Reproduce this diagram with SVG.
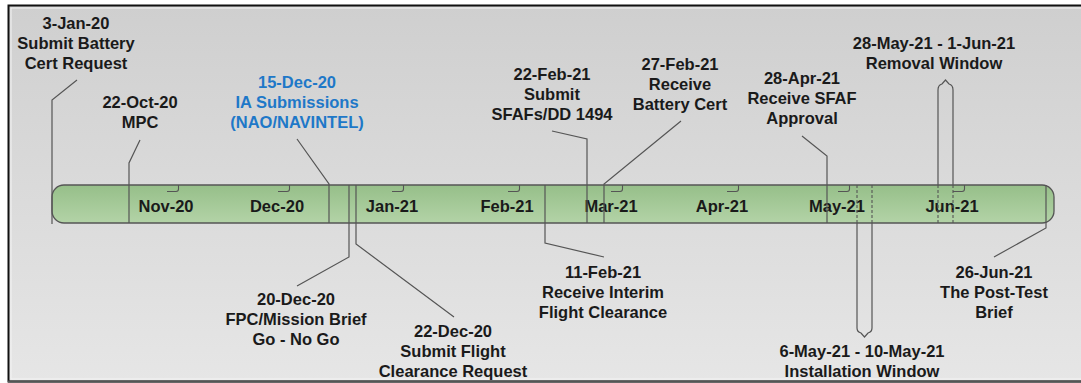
<svg xmlns="http://www.w3.org/2000/svg" width="1081" height="383" viewBox="0 0 1081 383">
<defs>
<linearGradient id="bg" x1="0" y1="0" x2="0" y2="1">
<stop offset="0" stop-color="#cfcfcf"/>
<stop offset="1" stop-color="#e6e6e6"/>
</linearGradient>
<linearGradient id="bar" x1="0" y1="0" x2="0" y2="1">
<stop offset="0" stop-color="#96bf89"/>
<stop offset="1" stop-color="#b3d3a7"/>
</linearGradient>
<style>
text{font-family:"Liberation Sans",Arial,sans-serif;font-weight:bold;font-size:16.5px;fill:#1a1a1a;text-anchor:middle}
text.blue{fill:#1e78c8}
.ld{fill:none;stroke:#555;stroke-width:1.2}
.dash{fill:none;stroke:#555;stroke-width:1.1;stroke-dasharray:3 2}
.tick{fill:none;stroke:#555;stroke-width:1.1}
</style>
</defs>
<rect x="8" y="5" width="1080" height="378" fill="url(#bg)"/>
<rect x="8.5" y="5.5" width="1080" height="376" fill="none" stroke="#111" stroke-width="2"/>
<rect x="11" y="8" width="1076" height="371" fill="none" stroke="#f4f4f4" stroke-width="1"/>
<line x1="8" y1="381.5" x2="1081" y2="381.5" stroke="#555" stroke-width="2"/>

<g id="timeline-bar">
<rect x="52" y="185" width="1002" height="38" rx="12" ry="12" fill="url(#bar)" stroke="#555" stroke-width="1.3"/>
<path class="tick" d="M167,191.5 H176 Q178.5,191.5 178.5,189 V185"/>
<path class="tick" d="M278,191.5 H287 Q289.5,191.5 289.5,189 V185"/>
<path class="tick" d="M392,191.5 H401 Q403.5,191.5 403.5,189 V185"/>
<path class="tick" d="M508,191.5 H517 Q519.5,191.5 519.5,189 V185"/>
<path class="tick" d="M611,191.5 H620 Q622.5,191.5 622.5,189 V185"/>
<path class="tick" d="M727,191.5 H736 Q738.5,191.5 738.5,189 V185"/>
<path class="tick" d="M838,191.5 H847 Q849.5,191.5 849.5,189 V185"/>
<path class="tick" d="M953,191.5 H962 Q964.5,191.5 964.5,189 V185"/>
<text x="166" y="212">Nov-20</text>
<text x="277" y="212">Dec-20</text>
<text x="392" y="212">Jan-21</text>
<text x="507" y="212">Feb-21</text>
<text x="611" y="212">Mar-21</text>
<text x="722" y="212">Apr-21</text>
<text x="837" y="212">May-21</text>
<text x="952" y="212">Jun-21</text>
</g>

<g id="connectors">
<path class="ld" d="M77,80 L52,100 V224"/>
<path class="ld" d="M140,140 L129,163 V223"/>
<path class="ld" d="M297,139 L329,184 V223"/>
<path class="ld" d="M349,185 V257 L297,286"/>
<path class="ld" d="M356,185 V244 L454,317"/>
<path class="ld" d="M545,185 V243 L604,257"/>
<path class="ld" d="M552,131 L587,139 V223"/>
<path class="ld" d="M681,121 L604,184 V223"/>
<path class="ld" d="M802,136 L827,156 V223"/>
<path class="ld" d="M1046,185 V228 L994,257"/>
<path class="dash" d="M857,185 V223 M872,185 V223"/>
<path class="ld" d="M857,223 V328 Q857,332 861,333 L864.5,337 L868,333 Q872,332 872,328 V223"/>
<path class="dash" d="M938,185 V223 M953,185 V223"/>
<path class="ld" d="M938,185 V90 Q938,85 942,84 L945.5,80 L949,84 Q953,85 953,90 V185"/>
</g>

<g id="n-battery-request"><text x="76" y="29">3-Jan-20</text><text x="76" y="49">Submit Battery</text><text x="76" y="69">Cert Request</text></g>
<g id="n-mpc"><text x="140" y="108">22-Oct-20</text><text x="140" y="128">MPC</text></g>
<g id="n-ia"><text class="blue" x="297" y="88">15-Dec-20</text><text class="blue" x="297" y="108">IA Submissions</text><text class="blue" x="297" y="128">(NAO/NAVINTEL)</text></g>
<g id="n-sfaf-submit"><text x="552" y="80">22-Feb-21</text><text x="552" y="100">Submit</text><text x="552" y="120">SFAFs/DD 1494</text></g>
<g id="n-battery-receive"><text x="680" y="70">27-Feb-21</text><text x="680" y="90">Receive</text><text x="680" y="110">Battery Cert</text></g>
<g id="n-sfaf-approval"><text x="802" y="84">28-Apr-21</text><text x="802" y="104">Receive SFAF</text><text x="802" y="124">Approval</text></g>
<g id="n-removal"><text x="934" y="49">28-May-21 - 1-Jun-21</text><text x="934" y="69">Removal Window</text></g>
<g id="n-fpc"><text x="296" y="305">20-Dec-20</text><text x="296" y="325">FPC/Mission Brief</text><text x="296" y="345">Go - No Go</text></g>
<g id="n-flight-request"><text x="453" y="337">22-Dec-20</text><text x="453" y="357">Submit Flight</text><text x="453" y="377">Clearance Request</text></g>
<g id="n-interim"><text x="603" y="278">11-Feb-21</text><text x="603" y="298">Receive Interim</text><text x="603" y="318">Flight Clearance</text></g>
<g id="n-installation"><text x="862" y="357">6-May-21 - 10-May-21</text><text x="862" y="377">Installation Window</text></g>
<g id="n-post-test"><text x="994" y="278">26-Jun-21</text><text x="994" y="298">The Post-Test</text><text x="994" y="318">Brief</text></g>
</svg>
